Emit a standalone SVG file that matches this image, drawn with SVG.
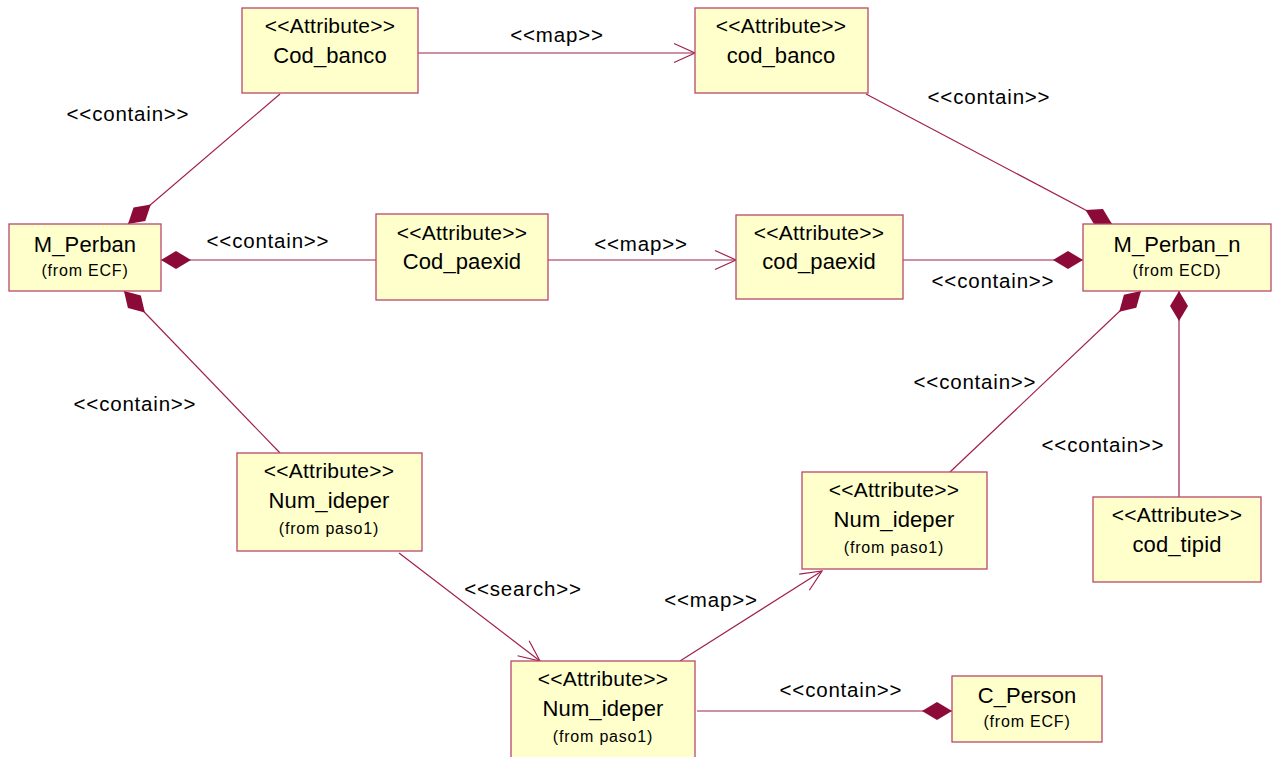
<svg xmlns="http://www.w3.org/2000/svg" width="1272" height="757" viewBox="0 0 1272 757">
<style>
.box{fill:#FFFFCC;stroke:#B8486A;stroke-width:1.3}
.t{font-family:"Liberation Sans",Arial,sans-serif;fill:#000;text-anchor:middle}
.st{font-size:21px;letter-spacing:0.25px}
.nm{font-size:22px;letter-spacing:0.1px}
.fr{font-size:16px;letter-spacing:0.8px}
.lb{font-size:20.5px;letter-spacing:0.8px}
.c{stroke:#A0204A;stroke-width:1.2;fill:none}
</style>
<defs>
<marker id="dia" markerUnits="userSpaceOnUse" orient="auto" refX="0" refY="0" overflow="visible" markerWidth="30" markerHeight="18">
<path d="M0,0 L15,-9 L30,0 L15,9 Z" fill="#8C0A38" stroke="none"/>
</marker>
<marker id="arr" markerUnits="userSpaceOnUse" orient="auto" refX="0" refY="0" overflow="visible" markerWidth="22" markerHeight="20">
<path d="M-21,-9.5 L0,0 L-21,9.5" fill="none" stroke="#A0204A" stroke-width="1.2"/>
</marker>
</defs>
<rect width="1272" height="757" fill="#fff"/>
<g id="connectors">
<path class="c" d="M418,53 L695,53" marker-end="url(#arr)"/>
<path class="c" d="M128,224 L280,94" marker-start="url(#dia)"/>
<path class="c" d="M161,260 L376,260" marker-start="url(#dia)"/>
<path class="c" d="M548,260 L736,260" marker-end="url(#arr)"/>
<path class="c" d="M1083,260 L903,260" marker-start="url(#dia)"/>
<path class="c" d="M1112,224 L866,94" marker-start="url(#dia)"/>
<path class="c" d="M124,291 L280,453" marker-start="url(#dia)"/>
<path class="c" d="M399,553 L540,661" marker-end="url(#arr)"/>
<path class="c" d="M680,661 L822,571" marker-end="url(#arr)"/>
<path class="c" d="M1141,291 L950,472" marker-start="url(#dia)"/>
<path class="c" d="M1179,291 L1179,497" marker-start="url(#dia)"/>
<path class="c" d="M952,711 L697,711" marker-start="url(#dia)"/>
<text class="t lb" x="557" y="42">&lt;&lt;map&gt;&gt;</text>
<text class="t lb" x="128" y="121">&lt;&lt;contain&gt;&gt;</text>
<text class="t lb" x="268" y="248">&lt;&lt;contain&gt;&gt;</text>
<text class="t lb" x="641" y="251">&lt;&lt;map&gt;&gt;</text>
<text class="t lb" x="989" y="104">&lt;&lt;contain&gt;&gt;</text>
<text class="t lb" x="993" y="288">&lt;&lt;contain&gt;&gt;</text>
<text class="t lb" x="135" y="411">&lt;&lt;contain&gt;&gt;</text>
<text class="t lb" x="975" y="389">&lt;&lt;contain&gt;&gt;</text>
<text class="t lb" x="1103" y="452">&lt;&lt;contain&gt;&gt;</text>
<text class="t lb" x="523" y="596">&lt;&lt;search&gt;&gt;</text>
<text class="t lb" x="711" y="607">&lt;&lt;map&gt;&gt;</text>
<text class="t lb" x="841" y="697">&lt;&lt;contain&gt;&gt;</text>
</g>
<g id="Cod_banco">
<rect class="box" x="242" y="8" width="176" height="85"/>
<text class="t st" x="330" y="33">&lt;&lt;Attribute&gt;&gt;</text>
<text class="t nm" x="330" y="63">Cod_banco</text>
</g>
<g id="cod_banco">
<rect class="box" x="695" y="8" width="173" height="85"/>
<text class="t st" x="781" y="33">&lt;&lt;Attribute&gt;&gt;</text>
<text class="t nm" x="781" y="63">cod_banco</text>
</g>
<g id="M_Perban">
<rect class="box" x="9" y="224" width="152" height="67"/>
<text class="t nm" x="85" y="252">M_Perban</text>
<text class="t fr" x="85" y="276">(from ECF)</text>
</g>
<g id="Cod_paexid">
<rect class="box" x="376" y="214" width="172" height="86"/>
<text class="t st" x="462" y="240">&lt;&lt;Attribute&gt;&gt;</text>
<text class="t nm" x="462" y="269">Cod_paexid</text>
</g>
<g id="cod_paexid">
<rect class="box" x="736" y="215" width="167" height="84"/>
<text class="t st" x="819" y="240">&lt;&lt;Attribute&gt;&gt;</text>
<text class="t nm" x="819" y="269">cod_paexid</text>
</g>
<g id="M_Perban_n">
<rect class="box" x="1083" y="224" width="188" height="67"/>
<text class="t nm" x="1177" y="252">M_Perban_n</text>
<text class="t fr" x="1177" y="276">(from ECD)</text>
</g>
<g id="Num_ideper_left">
<rect class="box" x="237" y="453" width="185" height="98"/>
<text class="t st" x="329" y="478">&lt;&lt;Attribute&gt;&gt;</text>
<text class="t nm" x="329" y="508">Num_ideper</text>
<text class="t fr" x="329" y="534">(from paso1)</text>
</g>
<g id="Num_ideper_right">
<rect class="box" x="802" y="472" width="185" height="97"/>
<text class="t st" x="894" y="497">&lt;&lt;Attribute&gt;&gt;</text>
<text class="t nm" x="894" y="527">Num_ideper</text>
<text class="t fr" x="894" y="553">(from paso1)</text>
</g>
<g id="cod_tipid">
<rect class="box" x="1093" y="497" width="168" height="85"/>
<text class="t st" x="1177" y="522">&lt;&lt;Attribute&gt;&gt;</text>
<text class="t nm" x="1177" y="552">cod_tipid</text>
</g>
<g id="Num_ideper_bottom">
<rect class="box" x="511" y="661" width="184" height="110"/>
<text class="t st" x="603" y="686">&lt;&lt;Attribute&gt;&gt;</text>
<text class="t nm" x="603" y="716">Num_ideper</text>
<text class="t fr" x="603" y="742">(from paso1)</text>
</g>
<g id="C_Person">
<rect class="box" x="952" y="676" width="150" height="66"/>
<text class="t nm" x="1027" y="703">C_Person</text>
<text class="t fr" x="1027" y="727">(from ECF)</text>
</g>
</svg>
